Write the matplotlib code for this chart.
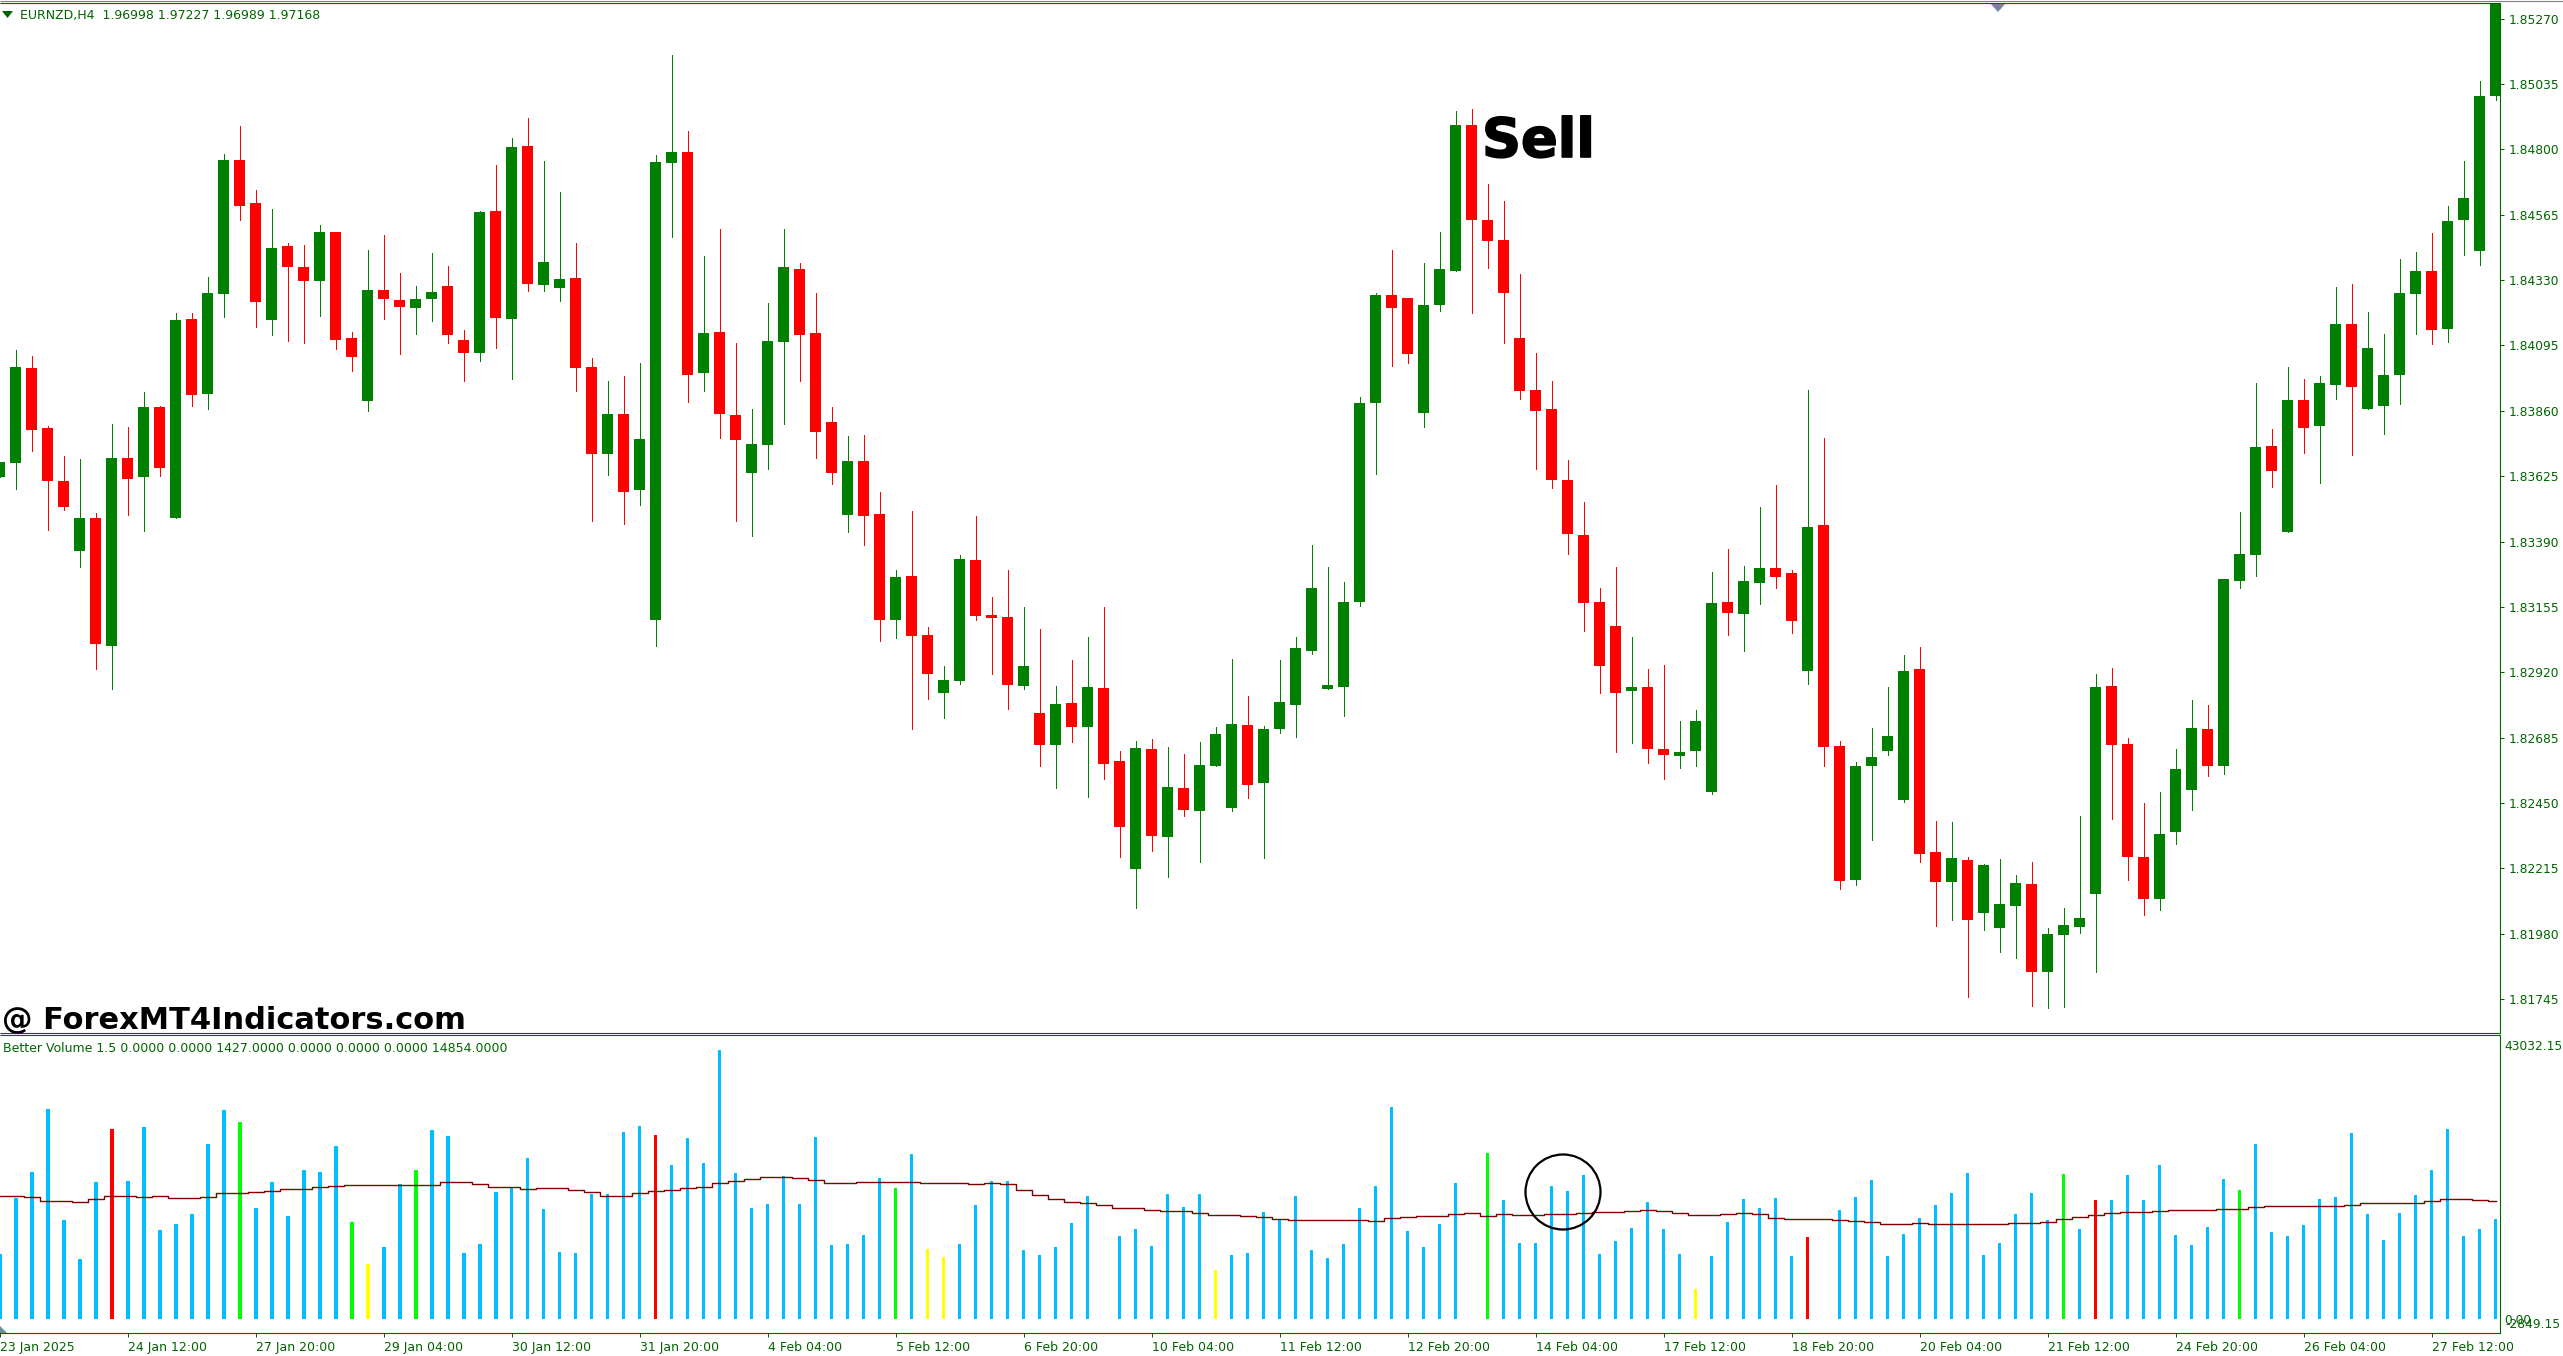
"""EURNZD H4 candles with Better Volume panel, MT4 look."""
import matplotlib
matplotlib.use("Agg")
import matplotlib.pyplot as plt
import matplotlib.patheffects as pe
from matplotlib.patches import Ellipse, Polygon

W, H = 2563, 1356
GREEN = "#008000"
RED = "#ff0000"
AXIS = "#006400"

highs = [
    1.83676, 1.84079, 1.84057, 1.83805, 1.83698, 1.83686, 1.83491, 1.83813, 1.83802, 1.83927,
    1.83878, 1.84211, 1.84211, 1.84341, 1.84782, 1.84885, 1.84653, 1.84586, 1.84464, 1.84457,
    1.84528, 1.84503, 1.84143, 1.84439, 1.84492, 1.84355, 1.84308, 1.84427, 1.84381, 1.84150,
    1.84578, 1.84744, 1.84840, 1.84913, 1.84758, 1.84647, 1.84464, 1.84049, 1.83967, 1.83985,
    1.84031, 1.84779, 1.85139, 1.84866, 1.84416, 1.84513, 1.84104, 1.83866, 1.84247, 1.84513,
    1.84391, 1.84284, 1.83874, 1.83770, 1.83772, 1.83567, 1.83288, 1.83501, 1.83083, 1.82942,
    1.83341, 1.83481, 1.83190, 1.83288, 1.83155, 1.83076, 1.82871, 1.82964, 1.83047, 1.83155,
    1.82637, 1.82673, 1.82680, 1.82651, 1.82625, 1.82668, 1.82723, 1.82966, 1.82835, 1.82725,
    1.82964, 1.83047, 1.83377, 1.83298, 1.83245, 1.83908, 1.84283, 1.84438, 1.84266, 1.84390,
    1.84502, 1.84939, 1.84946, 1.84676, 1.84614, 1.84352, 1.84068, 1.83968, 1.83682, 1.83532,
    1.83222, 1.83298, 1.83047, 1.82931, 1.82945, 1.82745, 1.82785, 1.83281, 1.83362, 1.83303,
    1.83515, 1.83594, 1.83286, 1.83935, 1.83763, 1.82673, 1.82599, 1.82718, 1.82866, 1.82981,
    1.83012, 1.82384, 1.82382, 1.82256, 1.82232, 1.82248, 1.82191, 1.82236, 1.82000, 1.82072,
    1.82403, 1.82914, 1.82935, 1.82683, 1.82449, 1.82489, 1.82644, 1.82821, 1.82802, 1.83255,
    1.83496, 1.83961, 1.83794, 1.84018, 1.83975, 1.83985, 1.84304, 1.84316, 1.84216, 1.84135,
    1.84407, 1.84431, 1.84500, 1.84595, 1.84757, 1.85046, 1.85400,
]
lows = [
    1.83623, 1.83579, 1.83716, 1.83432, 1.83503, 1.83298, 1.82932, 1.82860, 1.83485, 1.83428,
    1.83625, 1.83475, 1.83878, 1.83866, 1.84198, 1.84546, 1.84161, 1.84132, 1.84110, 1.84104,
    1.84201, 1.84082, 1.84003, 1.83859, 1.84190, 1.84064, 1.84137, 1.84183, 1.84104, 1.83967,
    1.84039, 1.84086, 1.83975, 1.84290, 1.84290, 1.84254, 1.83930, 1.83463, 1.83630, 1.83453,
    1.83521, 1.83014, 1.84485, 1.83892, 1.83930, 1.83762, 1.83463, 1.83410, 1.83651, 1.83813,
    1.83967, 1.83691, 1.83597, 1.83424, 1.83377, 1.83033, 1.83043, 1.82716, 1.82823, 1.82754,
    1.82878, 1.83107, 1.82914, 1.82787, 1.82859, 1.82582, 1.82504, 1.82668, 1.82470, 1.82537,
    1.82256, 1.82072, 1.82279, 1.82184, 1.82403, 1.82236, 1.82582, 1.82420, 1.82468, 1.82251,
    1.82702, 1.82687, 1.82985, 1.82859, 1.82761, 1.83157, 1.83632, 1.84020, 1.84032, 1.83801,
    1.84218, 1.84362, 1.84211, 1.84373, 1.84104, 1.83901, 1.83651, 1.83582, 1.83346, 1.83069,
    1.82845, 1.82632, 1.82666, 1.82594, 1.82537, 1.82575, 1.82582, 1.82482, 1.83055, 1.82995,
    1.83164, 1.83222, 1.83062, 1.82878, 1.82582, 1.82141, 1.82156, 1.82318, 1.82623, 1.82454,
    1.82236, 1.82008, 1.82029, 1.81752, 1.81993, 1.81915, 1.81893, 1.81719, 1.81712, 1.81717,
    1.81981, 1.81843, 1.82392, 1.82172, 1.82046, 1.82065, 1.82303, 1.82425, 1.82547, 1.82554,
    1.83222, 1.83267, 1.83586, 1.83424, 1.83708, 1.83601, 1.83901, 1.83701, 1.83865, 1.83777,
    1.83885, 1.84135, 1.84099, 1.84106, 1.84421, 1.84383, 1.84977,
]
opens = [
    1.83623, 1.83673, 1.84015, 1.83798, 1.83607, 1.83356, 1.83475, 1.83014, 1.83691, 1.83622,
    1.83874, 1.83475, 1.84190, 1.83920, 1.84280, 1.84762, 1.84607, 1.84186, 1.84452, 1.84378,
    1.84327, 1.84503, 1.84122, 1.83896, 1.84294, 1.84259, 1.84229, 1.84262, 1.84308, 1.84115,
    1.84067, 1.84578, 1.84190, 1.84812, 1.84312, 1.84302, 1.84338, 1.84018, 1.83704, 1.83848,
    1.83575, 1.83108, 1.84751, 1.84791, 1.83996, 1.84143, 1.83844, 1.83636, 1.83737, 1.84107,
    1.84370, 1.84140, 1.83820, 1.83486, 1.83679, 1.83489, 1.83107, 1.83267, 1.83055, 1.82845,
    1.82888, 1.83324, 1.83126, 1.83119, 1.82871, 1.82773, 1.82659, 1.82809, 1.82723, 1.82864,
    1.82601, 1.82213, 1.82644, 1.82327, 1.82504, 1.82420, 1.82582, 1.82432, 1.82730, 1.82520,
    1.82716, 1.82802, 1.82995, 1.82859, 1.82866, 1.83171, 1.83887, 1.84276, 1.84266, 1.83851,
    1.84240, 1.84362, 1.84889, 1.84545, 1.84474, 1.84121, 1.83935, 1.83865, 1.83610, 1.83412,
    1.83171, 1.83086, 1.82852, 1.82866, 1.82644, 1.82618, 1.82637, 1.82489, 1.83171, 1.83128,
    1.83241, 1.83295, 1.83276, 1.82923, 1.83448, 1.82654, 1.82172, 1.82582, 1.82637, 1.82461,
    1.82931, 1.82272, 1.82165, 1.82244, 1.82053, 1.82000, 1.82079, 1.82158, 1.81843, 1.81974,
    1.82003, 1.82122, 1.82871, 1.82661, 1.82256, 1.82105, 1.82346, 1.82496, 1.82716, 1.82582,
    1.83248, 1.83341, 1.83734, 1.83424, 1.83899, 1.83806, 1.83954, 1.84173, 1.83865, 1.83877,
    1.83989, 1.84280, 1.84362, 1.84154, 1.84545, 1.84435, 1.84991,
]
closes = [
    1.83676, 1.84018, 1.83792, 1.83607, 1.83514, 1.83475, 1.83022, 1.83691, 1.83615, 1.83874,
    1.83655, 1.84186, 1.83917, 1.84284, 1.84762, 1.84596, 1.84251, 1.84445, 1.84378, 1.84327,
    1.84503, 1.84115, 1.84054, 1.84294, 1.84262, 1.84232, 1.84262, 1.84287, 1.84132, 1.84067,
    1.84574, 1.84193, 1.84809, 1.84317, 1.84394, 1.84333, 1.84015, 1.83704, 1.83848, 1.83569,
    1.83759, 1.84754, 1.84791, 1.83988, 1.84140, 1.83848, 1.83755, 1.83740, 1.84110, 1.84378,
    1.84132, 1.83783, 1.83636, 1.83679, 1.83481, 1.83107, 1.83262, 1.83050, 1.82914, 1.82892,
    1.83326, 1.83121, 1.83114, 1.82873, 1.82942, 1.82659, 1.82807, 1.82723, 1.82866, 1.82589,
    1.82363, 1.82647, 1.82332, 1.82506, 1.82425, 1.82587, 1.82697, 1.82733, 1.82513, 1.82716,
    1.82814, 1.83007, 1.83222, 1.82873, 1.83171, 1.83887, 1.84276, 1.84230, 1.84063, 1.84240,
    1.84369, 1.84889, 1.84545, 1.84471, 1.84283, 1.83930, 1.83858, 1.83610, 1.83417, 1.83169,
    1.82942, 1.82845, 1.82866, 1.82644, 1.82623, 1.82632, 1.82745, 1.83169, 1.83133, 1.83248,
    1.83295, 1.83262, 1.83105, 1.83441, 1.82651, 1.82170, 1.82582, 1.82616, 1.82690, 1.82923,
    1.82265, 1.82165, 1.82251, 1.82029, 1.82227, 1.82086, 1.82163, 1.81843, 1.81979, 1.82010,
    1.82036, 1.82866, 1.82659, 1.82256, 1.82105, 1.82339, 1.82573, 1.82718, 1.82582, 1.83255,
    1.83346, 1.83730, 1.83644, 1.83899, 1.83799, 1.83961, 1.84173, 1.83947, 1.84085, 1.83989,
    1.84283, 1.84362, 1.84149, 1.84543, 1.84624, 1.84991, 1.85400,
]

volumes = [
    10282, 19141, 23254, 33220, 15661, 9491, 21672, 30056, 21830, 30372,
    14079, 15028, 16610, 27683, 33062, 31163, 17559, 21672, 16294, 23570,
    23254, 27367, 15344, 8700, 11390, 21356, 23570, 29898, 28949, 10441,
    11864, 20090, 20881, 25469, 17401, 10599, 10441, 19774, 19774, 29582,
    30531, 29107, 24361, 28632, 24678, 42553, 23096, 17559, 18192, 22621,
    18192, 28791, 11706, 11864, 13288, 22305, 20723, 26101, 11073, 9808,
    11864, 18034, 21830, 21830, 10915, 10124, 11390, 15186, 19457, 0,
    13130, 14237, 11548, 19774, 17717, 19774, 7751, 10124, 10441, 16926,
    15661, 19457, 10915, 9650, 11864, 17559, 21039, 33536, 13921, 11390,
    15028, 21514, 0, 26260, 18825, 12022, 12022, 21039, 20248, 22779,
    10282, 12339, 14395, 18508, 14237, 10282, 4746, 9966, 15344, 18983,
    17559, 19141, 9966, 12972, 0, 17243, 19299, 21988, 9966, 13446,
    15977, 18034, 19932, 23096, 10124, 12022, 16610, 19932, 15661, 22938,
    14237, 18825, 18825, 22779, 18825, 24361, 13288, 11706, 14553, 22147,
    20407, 27683, 13762, 13130, 14870, 18983, 19299, 29423, 16610, 12497,
    16768, 19616, 23570, 30056, 13130, 14237, 15819,
]
# bar positions that are not blue
red_bars = [7, 41, 113, 131]
green_bars = [15, 22, 26, 56, 93, 129, 140]
yellow_bars = [23, 58, 59, 76, 106]

volume_ma = [
    19510, 19457, 19352, 18614, 18614, 18456, 19036, 19510, 19510, 19352,
    19510, 19088, 19088, 19352, 19879, 19879, 20037, 20301, 20512, 20617,
    20828, 20987, 21145, 21145, 21145, 21145, 21145, 21145, 21619, 21619,
    21303, 20881, 20881, 20512, 20670, 20670, 20459, 20037, 19405, 19405,
    19879, 20196, 20459, 20670, 20828, 21461, 21777, 22094, 22410, 22410,
    22252, 22041, 21514, 21514, 21619, 21619, 21619, 21619, 21461, 21461,
    21461, 21303, 21461, 21303, 20407, 19563, 18930, 18456, 18350, 17981,
    17506, 17506, 17243, 17032, 17032, 16715, 16399, 16399, 16241, 16083,
    15872, 15608, 15608, 15608, 15608, 15608, 15450, 15924, 16083, 16241,
    16241, 16557, 16715, 16241, 16557, 16399, 16399, 16557, 16557, 16715,
    16874, 16874, 17032, 17190, 17032, 16715, 16399, 16399, 16557, 16715,
    16557, 15924, 15766, 15766, 15766, 15608, 15450, 15292, 14975, 14975,
    15134, 14975, 14975, 14975, 14975, 14975, 15134, 15134, 15292, 15766,
    16083, 16399, 16715, 16874, 16874, 17032, 17190, 17190, 17190, 17348,
    17348, 17665, 17823, 17823, 17823, 17823, 17823, 17981, 18297, 18297,
    18297, 18297, 18614, 18930, 18930, 18772, 18614,
]

price_ticks = [1.81745, 1.81980, 1.82215, 1.82450, 1.82685, 1.82920, 1.83155, 1.83390,
               1.83625, 1.83860, 1.84095, 1.84330, 1.84565, 1.84800, 1.85035, 1.85270]
date_labels = ["23 Jan 2025", "24 Jan 12:00", "27 Jan 20:00", "29 Jan 04:00", "30 Jan 12:00",
               "31 Jan 20:00", "4 Feb 04:00", "5 Feb 12:00", "6 Feb 20:00", "10 Feb 04:00",
               "11 Feb 12:00", "12 Feb 20:00", "14 Feb 04:00", "17 Feb 12:00", "18 Feb 20:00",
               "20 Feb 04:00", "21 Feb 12:00", "24 Feb 20:00", "26 Feb 04:00", "27 Feb 12:00"]

fig = plt.figure(figsize=(W / 100, H / 100), dpi=100, facecolor="white")


def panel(top, bottom, right=2500):
    """Axes placed by its pixel edges."""
    return fig.add_axes([0, 1 - bottom / H, right / W, (bottom - top) / H])


n = len(closes)
xs = list(range(n))
x_left, x_right = 0.5 / 16, 2500.5 / 16

# ---- candles ----
ax = panel(3, 1033)
wick_colors = [GREEN if c >= o else RED for o, c in zip(opens, closes)]
ax.vlines(xs, lows, highs, colors=wick_colors, lw=0.72, antialiased=False)
ax.bar(xs, [abs(c - o) for o, c in zip(opens, closes)], bottom=[min(o, c) for o, c in zip(opens, closes)],
       width=0.69, color=wick_colors, linewidth=0, antialiased=False)
ax.set_xlim(x_left, x_right)
ax.set_ylim(1.81623, 1.85326)
ax.set_xticks([])
ax.yaxis.tick_right()
ax.set_yticks(price_ticks, [f"{p:.5f}" for p in price_ticks])
ax.tick_params(axis="y", length=3, width=0.72, color=AXIS, labelcolor=AXIS, labelsize=8.8, pad=3.5)
for side in ("left", "bottom", "top"):
    ax.spines[side].set_visible(False)
ax.spines["right"].set_color(AXIS)
ax.spines["right"].set_linewidth(0.8)

# ---- volume ----
ax2 = panel(1035, 1333)
bar_colors = ["#00bfff"] * n
for i in red_bars:
    bar_colors[i] = RED
for i in green_bars:
    bar_colors[i] = "#00ff00"
for i in yellow_bars:
    bar_colors[i] = "#ffff00"
ax2.bar(xs, volumes, width=3.2 / 16, color=bar_colors, linewidth=0, antialiased=False)
ax2.plot(xs, volume_ma, color="#800000", lw=1.0, drawstyle="steps-mid")
ax2.set_xlim(x_left, x_right)
ax2.set_ylim(-2215, 44929)
ax2.set_yticks([])
ax2.set_xticks(xs[::8][:len(date_labels)], date_labels, ha="left")
ax2.tick_params(axis="x", length=3, width=0.72, color=AXIS, labelcolor=AXIS, labelsize=9, pad=2.5)
for side in ("left", "top"):
    ax2.spines[side].set_visible(False)
for side in ("right", "bottom"):
    ax2.spines[side].set_color(AXIS)
    ax2.spines[side].set_linewidth(0.8)

# ---- overlay in pixel coordinates: separators, labels, drawn objects ----
ov = fig.add_axes([0, 0, 1, 1], facecolor="none")
ov.set_xlim(0, W)
ov.set_ylim(H, 0)
ov.axis("off")
ov.hlines([3, 1033, 1035], 0, 2500, colors=AXIS, lw=0.8)
ov.hlines([1], 0, W, colors="#808080", lw=0.8)
ov.add_patch(Polygon([(2, 11), (13, 11), (7.5, 18)], color=AXIS, lw=0))
ov.add_patch(Polygon([(1990, 3), (2006, 3), (1998, 12)], color="#778899", lw=0))
ov.add_patch(Polygon([(0, 1326), (7, 1333), (0, 1333)], color="#778899", lw=0))
ov.add_patch(Ellipse((1563, 1192), 75, 75, fill=False, edgecolor="black", lw=1.6))

ov.text(20, 15, "EURNZD,H4  1.96998 1.97227 1.96989 1.97168", color=AXIS, fontsize=9, va="center")
ov.text(3, 1048, "Better Volume 1.5 0.0000 0.0000 1427.0000 0.0000 0.0000 0.0000 14854.0000",
        color=AXIS, fontsize=9, va="center")
ov.text(2504, 1046, "43032.15", color=AXIS, fontsize=8.8, va="center")
ov.text(2504, 1320, "0.00", color=AXIS, fontsize=8.8, va="center")
ov.text(2560, 1324, "-2849.15", color=AXIS, fontsize=8.8, va="center", ha="right")
ov.text(1482, 157, "Sell", color="black", fontsize=39, fontweight="bold", va="baseline",
        path_effects=[pe.withStroke(linewidth=1.2, foreground="black")])
ov.text(2, 1029, "@ ForexMT4Indicators.com", color="black", fontsize=22, fontweight="bold", va="baseline")

fig.savefig("out.png", dpi=100)
